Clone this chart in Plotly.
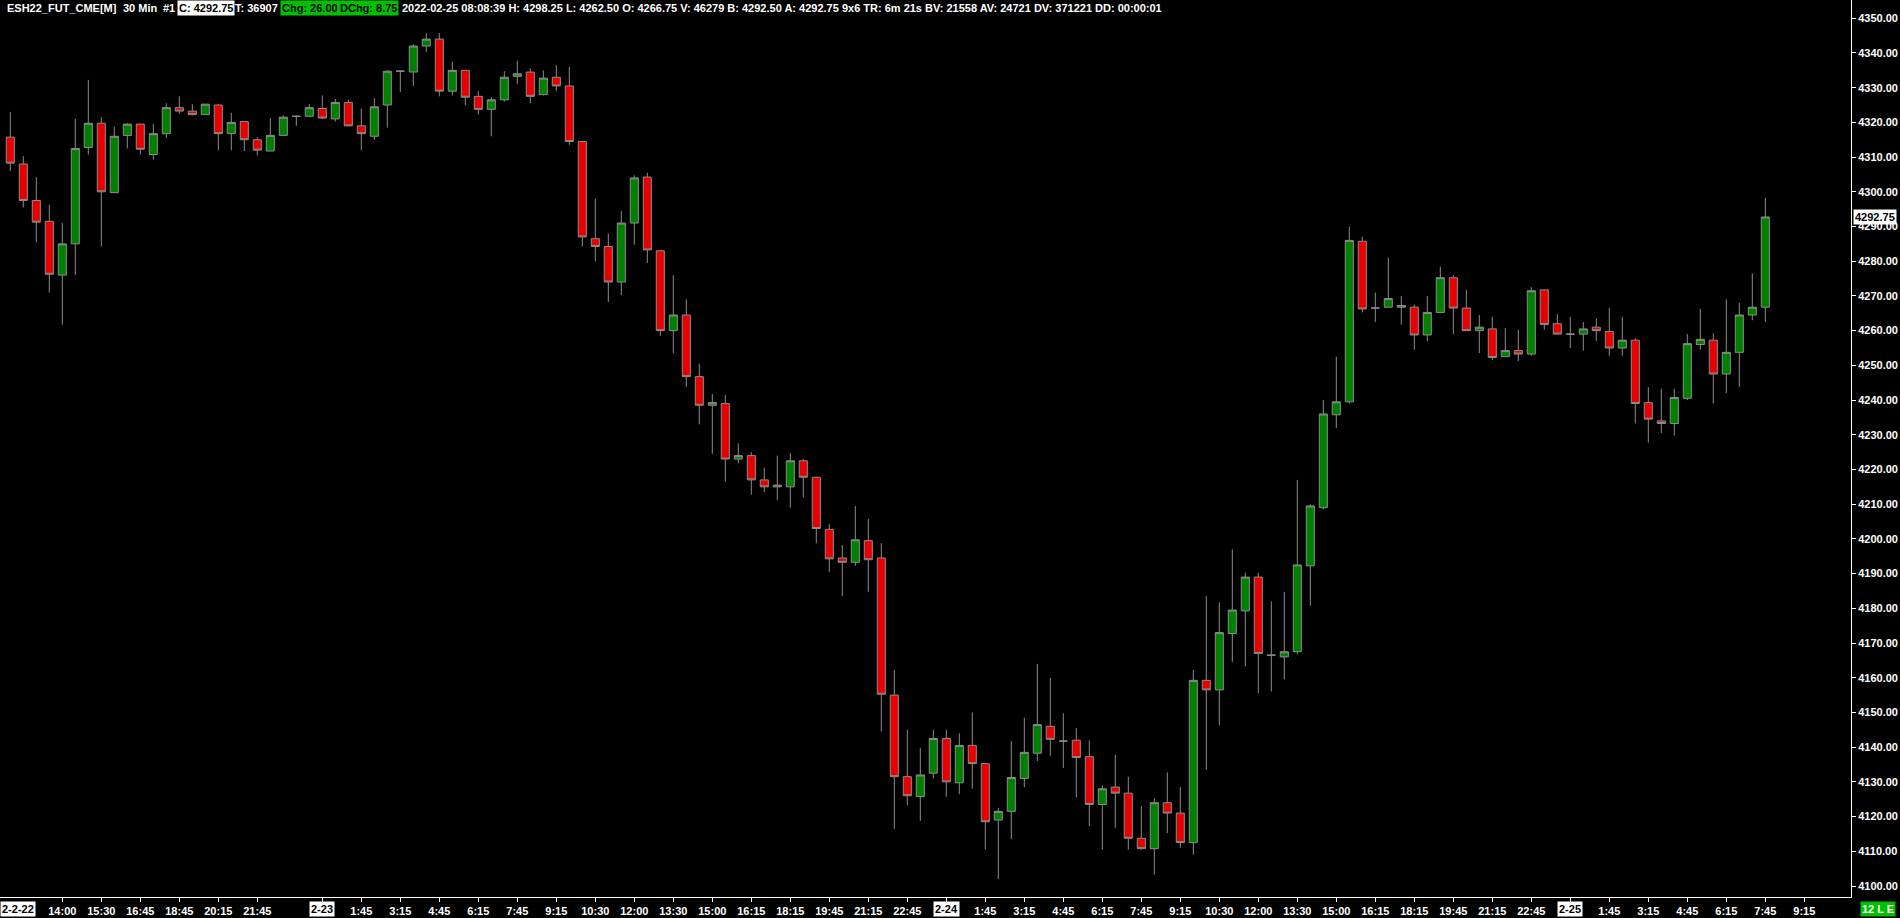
import plotly.graph_objects as go

# ESH22 30 min bars (index = bar number)
opens = [4315.75, 4308.0, 4297.5, 4291.5, 4276.0, 4285.0, 4312.75, 4319.75, 4299.75, 4316.25,
         4319.5, 4310.75, 4316.75, 4324.25, 4323.25, 4322.25, 4325.0, 4316.75, 4320.25, 4315.0,
         4311.75, 4316.25, 4321.75, 4321.75, 4324.0, 4321.0, 4325.75, 4319.0, 4316.0, 4325.0,
         4334.75, 4334.5, 4342.0, 4344.0, 4329.0, 4335.0, 4327.5, 4323.75, 4326.5, 4333.25,
         4334.5, 4328.0, 4333.0, 4330.5, 4314.5, 4286.5, 4284.25, 4274.0, 4291.0, 4304.25,
         4283.0, 4260.0, 4264.5, 4246.75, 4238.5, 4239.0, 4223.0, 4224.0, 4217.0, 4215.5,
         4215.0, 4222.5, 4217.75, 4202.75, 4194.5, 4193.25, 4199.5, 4194.5, 4155.0, 4131.5,
         4125.75, 4132.5, 4142.5, 4129.75, 4140.5, 4135.25, 4119.0, 4121.5, 4131.0, 4138.25,
         4146.0, 4141.75, 4142.0, 4137.25, 4123.5, 4128.5, 4126.75, 4113.75, 4110.75, 4124.0,
         4121.0, 4112.5, 4159.25, 4156.5, 4172.75, 4179.25, 4189.0, 4166.5, 4166.0, 4167.5,
         4192.25, 4209.0, 4235.75, 4239.5, 4285.75, 4266.5, 4266.75, 4266.75, 4266.75, 4258.75,
         4265.25, 4275.25, 4266.5, 4260.0, 4260.5, 4252.5, 4254.25, 4253.25, 4271.75, 4262.0,
         4259.0, 4259.0, 4261.0, 4259.75, 4255.0, 4257.25, 4239.25, 4234.0, 4233.25, 4240.5,
         4256.0, 4257.25, 4247.5, 4253.75, 4264.5, 4266.75]
highs = [4323.0, 4310.25, 4304.25, 4296.25, 4291.0, 4321.0, 4332.25, 4321.5, 4318.75, 4319.75,
         4319.5, 4319.5, 4325.5, 4327.5, 4325.25, 4325.25, 4325.25, 4322.75, 4320.25, 4315.75,
         4321.25, 4322.0, 4322.0, 4325.25, 4327.75, 4326.75, 4326.5, 4324.0, 4327.0, 4335.0,
         4335.0, 4342.5, 4345.75, 4345.75, 4337.5, 4335.0, 4329.0, 4327.25, 4334.75, 4337.75,
         4335.5, 4335.0, 4336.5, 4336.0, 4314.75, 4298.0, 4288.0, 4294.5, 4304.75, 4305.5,
         4283.25, 4276.0, 4269.0, 4250.5, 4241.75, 4241.5, 4227.5, 4225.0, 4220.5, 4224.0,
         4224.75, 4223.0, 4218.0, 4204.25, 4198.25, 4209.5, 4205.75, 4198.75, 4162.25, 4145.0,
         4139.75, 4145.0, 4145.0, 4144.0, 4150.0, 4135.25, 4122.5, 4141.75, 4148.5, 4164.0,
         4160.0, 4149.75, 4145.5, 4142.0, 4129.0, 4137.75, 4131.5, 4123.0, 4125.25, 4132.75,
         4128.5, 4162.25, 4183.5, 4181.75, 4197.0, 4190.25, 4190.25, 4182.0, 4184.75, 4217.0,
         4210.0, 4240.0, 4252.5, 4290.0, 4287.0, 4271.0, 4281.0, 4270.0, 4267.5, 4270.0,
         4278.5, 4276.0, 4271.75, 4264.5, 4264.0, 4260.75, 4260.25, 4272.5, 4271.75, 4264.75,
         4264.0, 4262.5, 4263.5, 4266.5, 4264.0, 4257.75, 4243.75, 4243.25, 4243.25, 4259.0,
         4266.25, 4259.25, 4269.0, 4268.0, 4276.5, 4298.25]
lows = [4306.0, 4295.5, 4285.5, 4271.0, 4261.75, 4276.0, 4310.75, 4284.25, 4299.75, 4312.5,
        4310.75, 4309.25, 4315.5, 4322.5, 4322.0, 4322.25, 4312.0, 4312.0, 4311.75, 4310.5,
        4311.75, 4316.25, 4319.0, 4321.75, 4321.0, 4320.25, 4319.0, 4312.0, 4315.0, 4318.5,
        4328.75, 4330.5, 4340.25, 4327.5, 4327.75, 4325.0, 4322.25, 4316.0, 4326.0, 4331.0,
        4325.5, 4327.75, 4329.0, 4313.5, 4284.25, 4280.0, 4268.25, 4270.25, 4284.75, 4279.5,
        4258.5, 4253.5, 4243.75, 4233.0, 4224.5, 4216.5, 4221.75, 4212.75, 4213.5, 4211.25,
        4209.0, 4212.0, 4198.75, 4190.5, 4183.5, 4192.25, 4184.75, 4144.5, 4116.5, 4123.25,
        4118.75, 4131.0, 4125.75, 4126.5, 4128.0, 4110.5, 4102.0, 4113.5, 4128.5, 4136.0,
        4137.5, 4134.0, 4125.5, 4117.25, 4110.5, 4116.75, 4110.5, 4110.5, 4103.25, 4115.25,
        4111.0, 4109.0, 4133.5, 4146.25, 4164.5, 4163.25, 4155.5, 4156.0, 4159.5, 4166.75,
        4180.75, 4208.5, 4232.0, 4239.0, 4265.25, 4262.5, 4266.75, 4261.75, 4254.5, 4257.0,
        4265.0, 4259.0, 4260.0, 4253.5, 4251.5, 4252.5, 4251.25, 4252.75, 4260.25, 4259.0,
        4255.0, 4254.25, 4257.0, 4252.75, 4252.75, 4233.25, 4227.75, 4230.5, 4229.75, 4240.0,
        4254.5, 4239.0, 4242.0, 4243.75, 4263.0, 4262.5]
closes = [4308.25, 4297.5, 4291.25, 4276.25, 4285.0, 4312.5, 4319.75, 4300.0, 4316.0, 4319.5,
          4312.25, 4316.75, 4324.25, 4323.25, 4322.25, 4325.25, 4316.75, 4320.0, 4315.0, 4312.0,
          4316.25, 4321.5, 4321.75, 4324.25, 4321.25, 4325.75, 4319.0, 4316.75, 4324.5, 4334.75,
          4334.75, 4342.0, 4344.0, 4329.0, 4335.0, 4327.25, 4323.75, 4326.5, 4333.0, 4334.0,
          4327.5, 4332.75, 4330.5, 4314.5, 4287.0, 4284.25, 4274.0, 4291.0, 4304.0, 4283.25,
          4260.0, 4264.5, 4246.75, 4238.5, 4239.25, 4223.0, 4224.0, 4217.0, 4215.0, 4215.0,
          4222.5, 4217.75, 4203.0, 4194.25, 4193.25, 4199.75, 4194.0, 4155.25, 4131.5, 4126.0,
          4132.0, 4142.5, 4130.0, 4140.5, 4135.25, 4118.5, 4121.5, 4131.25, 4138.5, 4146.5,
          4142.25, 4141.75, 4137.0, 4123.5, 4128.0, 4126.75, 4113.75, 4110.75, 4124.0, 4121.0,
          4112.5, 4159.25, 4156.5, 4173.0, 4179.5, 4189.0, 4167.0, 4166.5, 4167.5, 4192.5,
          4209.5, 4236.0, 4239.5, 4286.0, 4266.25, 4266.5, 4269.25, 4267.25, 4258.75, 4265.25,
          4275.25, 4266.5, 4260.0, 4261.0, 4252.25, 4254.25, 4253.25, 4271.5, 4261.75, 4259.0,
          4259.0, 4260.5, 4260.0, 4255.0, 4257.25, 4239.0, 4234.5, 4233.25, 4240.75, 4256.25,
          4257.5, 4247.5, 4253.75, 4264.5, 4266.75, 4292.75]
bars = list(range(len(opens)))

time_pos = [4, 7, 10, 13, 16, 19, 27, 30, 33, 36, 39, 42, 45, 48, 51, 54, 57, 60, 63, 66, 69,
            75, 78, 81, 84, 87, 90, 93, 96, 99, 102, 105, 108, 111, 114, 117,
            123, 126, 129, 132, 135, 138]
time_text = ["14:00", "15:30", "16:45", "18:45", "20:15", "21:45",
             "1:45", "3:15", "4:45", "6:15", "7:45", "9:15", "10:30", "12:00", "13:30", "15:00",
             "16:15", "18:15", "19:45", "21:15", "22:45",
             "1:45", "3:15", "4:45", "6:15", "7:45", "9:15", "10:30", "12:00", "13:30", "15:00",
             "16:15", "18:15", "19:45", "21:15", "22:45",
             "1:45", "3:15", "4:45", "6:15", "7:45", "9:15"]
date_pos = [24, 72, 120]
date_text = ["2-23", "2-24", "2-25"]
first_date = "2-2-22"

last_price = 4292.75
header_parts = ["ESH22_FUT_CME[M]", "30 Min", "#1", "C: 4292.75", "T: 36907", "Chg: 26.00",
                "DChg: 8.75",
                "2022-02-25 08:08:39 H: 4298.25 L: 4262.50 O: 4266.75 V: 46279 B: 4292.50 "
                "A: 4292.75 9x6 TR: 6m 21s BV: 21558 AV: 24721 DV: 371221 DD: 00:00:01"]

FONT = "Liberation Sans, Arial, sans-serif"
FS = 11
W, H = 1900, 918
PLOT_W = 1851  # plot area width in px (price scale on the right)

fig = go.Figure()
fig.add_trace(go.Candlestick(
    x=bars, open=opens, high=highs, low=lows, close=closes,
    increasing=dict(fillcolor="#008000", line=dict(color="#8c8c8c", width=1)),
    decreasing=dict(fillcolor="#e80000", line=dict(color="#8c8c8c", width=1)),
    whiskerwidth=0, showlegend=False, hoverinfo="skip"))

tickfont = dict(family=FONT, size=FS, color="white", weight="bold")

fig.update_layout(
    width=W, height=H, template="none",
    paper_bgcolor="black", plot_bgcolor="black",
    margin=dict(l=0, r=W - PLOT_W, t=0, b=21),
    boxgap=0.38, boxgroupgap=0,
    xaxis=dict(range=[-10.3 / 13, (PLOT_W - 10.3) / 13], rangeslider=dict(visible=False),
               showgrid=False, zeroline=False, showline=True, linecolor="white", linewidth=1,
               ticks="outside", ticklen=4, tickcolor="white", tickwidth=1,
               tickvals=time_pos + date_pos, ticktext=time_text + [""] * len(date_pos),
               tickfont=tickfont, automargin=False, fixedrange=True),
    yaxis=dict(range=[4096.83, 4355.26], side="right", showgrid=False, zeroline=False,
               showline=True, linecolor="white", linewidth=1,
               ticks="outside", ticklen=4, tickcolor="white", tickwidth=1,
               tick0=4100, dtick=10, tickformat=".2f",
               tickfont=tickfont, automargin=False, fixedrange=True),
)

ann = []
# date labels in white boxes on the time scale
for p, t in zip(date_pos, date_text):
    ann.append(dict(x=p, y=0, xref="x", yref="paper", xanchor="center", yanchor="top",
                    yshift=-4, text=t, showarrow=False, bgcolor="white", borderpad=1,
                    font=dict(family=FONT, size=FS, color="black", weight="bold")))
ann.append(dict(x=0, y=0, xref="paper", yref="paper", xanchor="left", yanchor="top",
                yshift=-4, text=first_date, showarrow=False, bgcolor="white", borderpad=1,
                font=dict(family=FONT, size=FS, color="black", weight="bold")))

# last price marker on the price scale
ann.append(dict(x=1, y=last_price, xref="paper", yref="y", xanchor="left", yanchor="middle",
                xshift=2, text=f"{last_price:.2f}", showarrow=False, bgcolor="white",
                borderpad=1, font=dict(family=FONT, size=FS, color="black", weight="bold")))
ann.append(dict(x=1, y=0, xref="paper", yref="paper", xanchor="left", yanchor="top",
                xshift=9, yshift=-4, text="12 L E", showarrow=False, bgcolor="#00c000",
                borderpad=1, font=dict(family=FONT, size=FS, color="white", weight="bold")))

# header line
header_px = [4.5, 120.5, 161, 177, 233, 280, 338, 400]
header_bg = [None, None, None, "white", None, "#00c000", "#00c000", None]
header_fg = ["white", "white", "white", "black", "white", "black", "black", "white"]
for txt, px, bg, fg in zip(header_parts, header_px, header_bg, header_fg):
    a = dict(x=px / PLOT_W, y=1, xref="paper", yref="paper", xanchor="left", yanchor="top",
             yshift=0, text=txt, showarrow=False, borderpad=1,
             font=dict(family=FONT, size=FS, color=fg, weight="bold"))
    if bg:
        a["bgcolor"] = bg
    ann.append(a)

fig.update_layout(annotations=ann)
fig.write_html("out.html", config={"displayModeBar": False},
               post_script="document.body.style.margin='0';")
